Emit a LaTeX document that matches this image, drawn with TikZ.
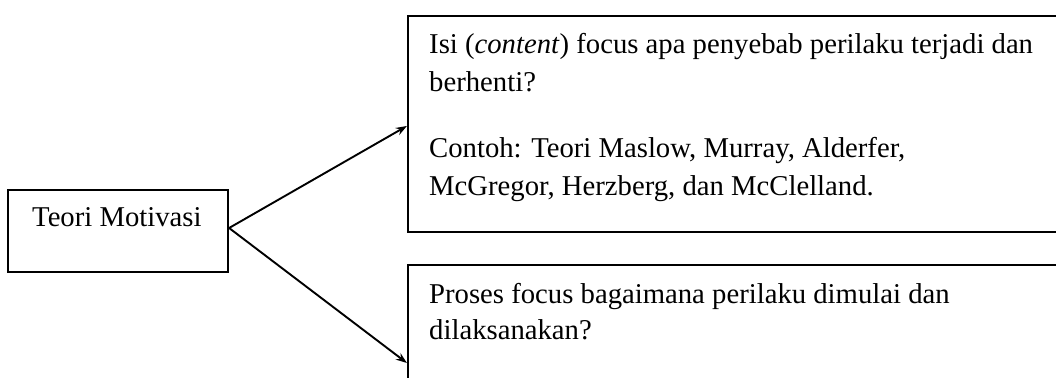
\documentclass[tikz,border=0pt]{standalone}
\usepackage{fontspec}
\setmainfont{Liberation Serif}
\usetikzlibrary{arrows.meta}
\begin{document}
\begin{tikzpicture}[x=1pt,y=1pt,
  box/.style={draw=black, line width=2.2pt, rectangle, inner sep=0pt},
  txt/.style={anchor=base west, inner sep=0pt, font=\fontsize{28.7}{34}\selectfont},
  arr/.style={line width=1.9pt, -{Stealth[length=11pt,width=8pt]}}]
\useasboundingbox (0,0) rectangle (1056,377);
\clip (0,0) rectangle (1056,377);
% boxes
\node[box, minimum width=220pt, minimum height=82pt] (teori) at (118,146) {};
\node[box, minimum width=662pt, minimum height=216pt] (top) at (739,253) {};
\node[box, minimum width=662pt, minimum height=196pt] (bot) at (739,14) {};
% texts
\node[txt] (tteori) at (32,150) {Teori Motivasi};
\node[txt] (t1) at (429,323.7) {Isi (\textit{content}) focus apa penyebab perilaku terjadi dan};
\node[txt] (t2) at (429,285.3) {berhenti?};
\node[txt] (t3) at (429,219.3) {Contoh: Teori Maslow, Murray, Alderfer,};
\node[txt] (t4) at (429,181.3) {McGregor, Herzberg, dan McClelland.};
\node[txt] (t5) at (429,73.7) {Proses focus bagaimana perilaku dimulai dan};
\node[txt] (t6) at (429,37) {dilaksanakan?};
% connectors
\draw[arr] ([yshift=3pt]teori.east) -- ([yshift=-2pt]top.west);
\draw[arr] ([yshift=3pt]teori.east) -- (bot.west);
\end{tikzpicture}
\end{document}
